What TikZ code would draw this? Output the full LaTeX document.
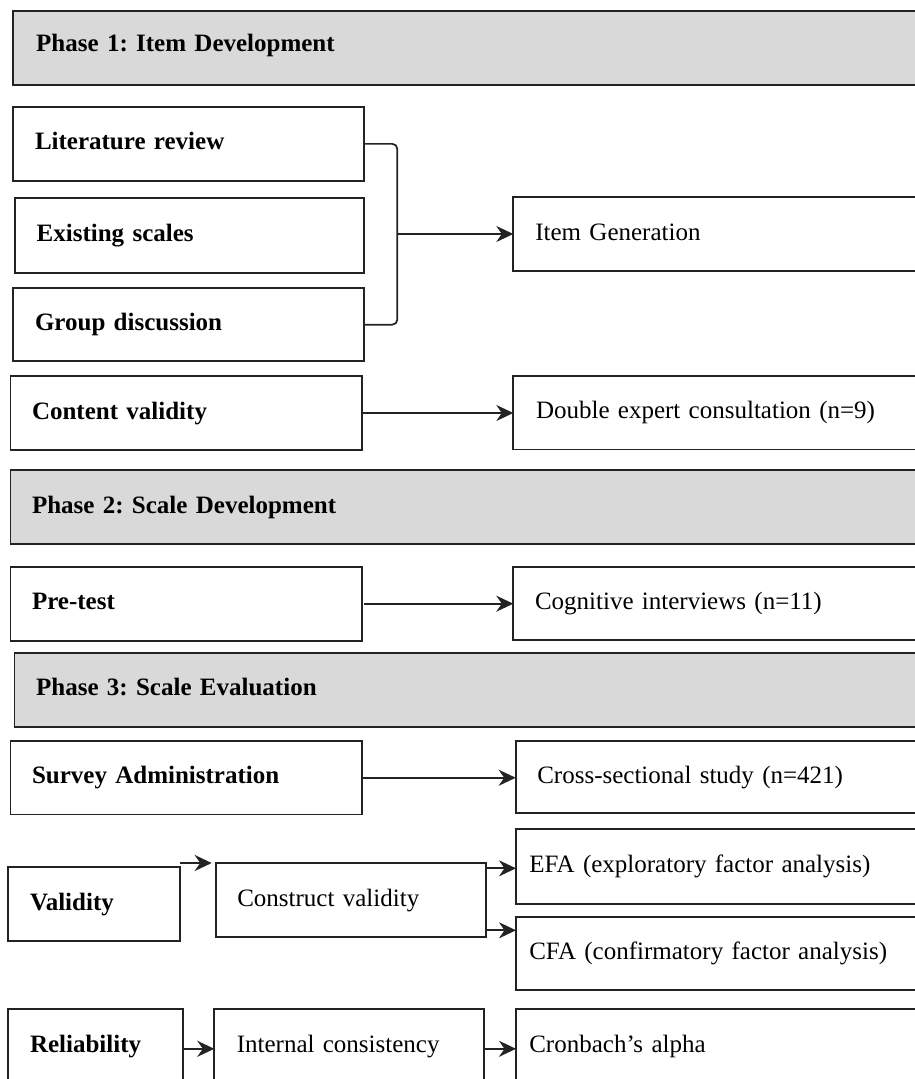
\documentclass[tikz,border=0pt]{standalone}
\usepackage{fontspec}
\setmainfont{Liberation Serif}
\usetikzlibrary{arrows.meta,calc}
\definecolor{phasegray}{RGB}{217,217,217}
\definecolor{linec}{RGB}{35,35,35}
\frenchspacing
\begin{document}
\begin{tikzpicture}[x=1pt,y=-1pt,
  box/.style={draw=linec, line width=1.7pt, anchor=north west, align=left,
    outer sep=0pt, inner ysep=0pt, text height=17pt, text depth=5pt,
    font=\fontsize{25}{30}\selectfont},
  bbox/.style={box, font=\fontsize{25}{30}\selectfont\bfseries},
  phase/.style={bbox, fill=phasegray},
  arr/.style={draw=linec, line width=1.7pt, -{Stealth[length=17pt,width=16pt,inset=5.5pt]}},
  conn/.style={draw=linec, line width=1.7pt},
]
\useasboundingbox (0,0) rectangle (915,1079);
\clip (0,0) rectangle (915,1079);

% Phase 1
\node[phase, inner xsep=23.4pt, text width=870.4pt, minimum height=74pt] (p1) at (12.8,11) {\raisebox{2.5pt}{Phase 1: Item Development}};
\node[bbox, inner xsep=21.7pt, text width=307.3pt, minimum height=74.3pt] (lit) at (13.3,106.7) {Literature review};
\node[bbox, inner xsep=21.7pt, text width=305.6pt, minimum height=75pt] (exs) at (15,197.7) {Existing scales};
\node[bbox, inner xsep=21.7pt, text width=307.3pt, minimum height=72.7pt] (grp) at (13.3,288.3) {Group discussion};
\node[box, inner xsep=22pt, text width=372.7pt, minimum height=74pt] (item) at (513.3,197) {Item Generation};
\node[bbox, inner xsep=21.5pt, text width=308.5pt, minimum height=74pt] (cont) at (10.5,376) {Content validity};
\node[box, inner xsep=22.7pt, text width=371.3pt, minimum height=73.5pt] (dbl) at (513.3,376) {Double expert consultation (n=9)};

% Phase 2
\node[phase, inner xsep=21.5pt, text width=876.5pt, minimum height=74pt] (p2) at (10.5,470) {Phase 2: Scale Development};
\node[bbox, inner xsep=21.5pt, text width=308.5pt, minimum height=74pt] (pre) at (10.5,566.7) {Pre-test};
\node[box, inner xsep=21.7pt, text width=373.3pt, minimum height=73.3pt] (cog) at (513.3,566.7) {Cognitive interviews (n=11)};

% Phase 3
\node[phase, inner xsep=21.5pt, text width=872.4pt, minimum height=74pt] (p3) at (14.6,653.3) {\raisebox{0.5pt}{Phase 3: Scale Evaluation}};
\node[bbox, inner xsep=21.5pt, text width=308.5pt, minimum height=73.5pt] (sur) at (10.5,741) {Survey Administration};
\node[box, inner xsep=21.6pt, text width=371.1pt, minimum height=72pt] (crs) at (515.7,741) {Cross-sectional study (n=421)};
\node[box, inner xsep=13.3pt, text width=387.4pt, minimum height=75pt] (efa) at (516,829) {EFA (exploratory factor analysis)};
\node[box, inner xsep=13.3pt, text width=387.4pt, minimum height=73.5pt] (cfa) at (516,916.7) {CFA (confirmatory factor analysis)};
\node[bbox, inner xsep=22pt, text width=128pt, minimum height=74pt] (val) at (8,867) {Validity};
\node[box, inner xsep=21.6pt, text width=226.8pt, minimum height=74pt] (cons) at (215.7,863.3) {Construct validity};
\node[bbox, inner xsep=22pt, text width=131pt, minimum height=74pt] (rel) at (8,1009.3) {Reliability};
\node[box, inner xsep=22.5pt, text width=225pt, minimum height=74pt] (int) at (214.3,1009.3) {Internal consistency};
\node[box, inner xsep=13.3pt, text width=387.4pt, minimum height=74pt] (cron) at (516,1009.3) {Cronbach’s alpha};

% bracket and arrows
\path (item.west) ++(-116,0) coordinate (bx);
\draw[conn, rounded corners=5pt] (lit.east) -| (bx) |- (grp.east);
\draw[arr] (bx) -- (item.west);
\draw[arr] (cont.east) -- (cont.east -| dbl.west);
\draw[arr] ([xshift=2pt]pre.east) -- (pre.east -| cog.west);
\draw[arr] (sur.east) -- (sur.east -| crs.west);

\coordinate (v1) at ([yshift=4pt]val.north east);
\coordinate (v2) at ([xshift=-4pt]cons.north west);
\draw[arr] (v1) -- (v1 -| v2);
\coordinate (c1) at ([yshift=-5pt]cons.north east);
\draw[arr] (c1) -- (c1 -| efa.west);
\coordinate (c2) at ([yshift=7pt]cons.south east);
\draw[arr] (c2) -- (c2 -| cfa.west);
\coordinate (r1) at ([yshift=-39.5pt]rel.north east);
\draw[arr] (r1) -- (r1 -| int.west);
\coordinate (r2) at ([yshift=-39.5pt]int.north east);
\draw[arr] (r2) -- (r2 -| cron.west);
\end{tikzpicture}
\end{document}
